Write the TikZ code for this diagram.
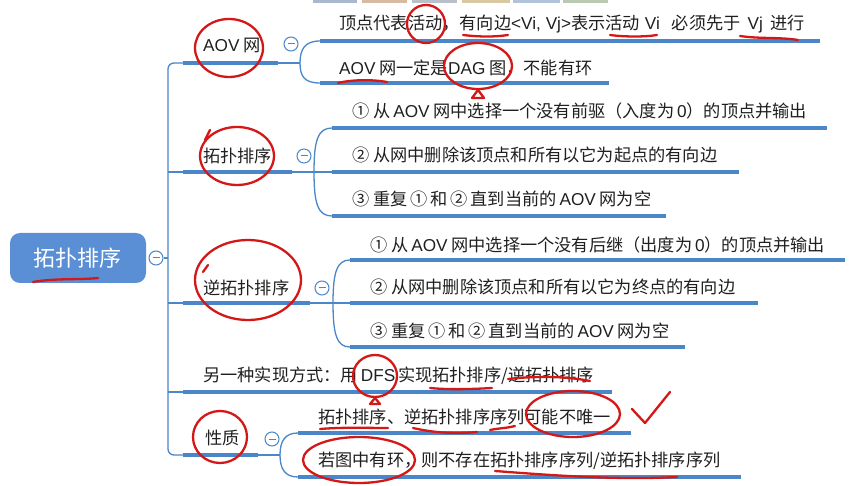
\documentclass[tikz,border=0pt]{standalone}
\usepackage{fontspec}
\setmainfont{Noto Sans CJK SC}
\newfontfamily\lat{Liberation Sans}
\definecolor{mapblue}{HTML}{4A86C8}
\definecolor{rootblue}{HTML}{5A8FD6}
\definecolor{ink}{HTML}{D41818}
\definecolor{tbA}{HTML}{A9B8CC}
\definecolor{tbB}{HTML}{D8B9A2}
\definecolor{tbC}{HTML}{B9C0C9}
\definecolor{tbD}{HTML}{D9C9A2}
\definecolor{tbE}{HTML}{B2C2D9}
\definecolor{tbF}{HTML}{BAC9B2}
\begin{document}
\begin{tikzpicture}[x=1pt,y=-1pt,
  bar/.style={mapblue, line width=3.6pt},
  link/.style={mapblue, line width=1.3pt, rounded corners=6pt},
  txt/.style={anchor=west, inner sep=0pt, font=\fontsize{17.2}{20}\selectfont, text=black!88},
  rootbox/.style={fill=rootblue, rounded corners=10pt, minimum width=136pt, minimum height=50pt,
                  text=white, font=\fontsize{22}{26}\selectfont},
  fold/.style={circle, draw=mapblue, fill=white, line width=1pt, minimum size=14pt, inner sep=0pt,
               path picture={\draw[mapblue, line width=1pt]
                 ([xshift=-3.5pt]path picture bounding box.center) --
                 ([xshift=3.5pt]path picture bounding box.center);}},
  pen/.style={ink, line width=2.3pt, line cap=round, line join=round},
]
\useasboundingbox (0,0) rectangle (857,486);

% toolbar remnants at the top edge
\fill[tbA] (313,0) rectangle (357,3);
\fill[tbB] (362,0) rectangle (407,3);
\fill[tbC] (412,0) rectangle (457,3);
\fill[tbD] (462,0) rectangle (510,3);
\fill[tbE] (513,0) rectangle (560,3);
\fill[tbF] (563,0) rectangle (608,3);

% root
\node[rootbox] (root) at (78,258) {拓扑排序};
\node[fold] (rf) at (156,258) {};
\coordinate (tr) at (168,258);
\draw[link] (rf.east) -- (tr);

% first-level bars
\coordinate (b1s) at (183,63);  \coordinate (b1e) at (278,63);
\coordinate (b2s) at (183,172); \coordinate (b2e) at (292,172);
\coordinate (b3s) at (183,303); \coordinate (b3e) at (310,303);
\coordinate (b4s) at (183,392); \coordinate (b4e) at (612,392);
\coordinate (b5s) at (183,455); \coordinate (b5e) at (258,455);
\coordinate (tt) at (168,63);
\coordinate (tb) at (168,455);
\draw[link] (b1s) -- (tt) -- (tb) -- (b5s);
\draw[link] (tt |- b2s) -- (b2s);
\draw[link] (tt |- b3s) -- (b3s);
\draw[link] (tt |- b4s) -- (b4s);
\foreach \b in {1,...,5} { \draw[bar] (b\b s) -- (b\b e); }

% first-level labels and fold circles
\node[txt] (l1) at (203,45) {{\lat AOV} 网};
\node[txt] (l2) at (203,156) {拓扑排序};
\node[txt] (l3) at (203,288) {逆拓扑排序};
\node[txt] (l4) at (203,376) {另一种实现方式：用\,{\lat DFS}\,实现拓扑排序/逆拓扑排序};
\node[txt] (l5) at (205,438) {性质};
\node[fold] (f1) at (291,44) {};
\node[fold] (f2) at (304,156) {};
\node[fold] (f3) at (322,288) {};
\node[fold] (f5) at (272,439) {};

% ---- AOV children
\coordinate (j1) at (300,63);
\coordinate (c11s) at (320,41); \coordinate (c11e) at (820,41);
\coordinate (c12s) at (320,83); \coordinate (c12e) at (609,83);
\draw[link] (b1e) -- (j1);
\draw[link] (j1) .. controls (300,49) and (305,41) .. (c11s);
\draw[link] (j1) .. controls (300,77) and (305,83) .. (c12s);
\draw[bar] (c11s) -- (c11e);
\draw[bar] (c12s) -- (c12e);
\node[txt] (c11) at (339,24) {顶点代表活动，有向边{\lat <Vi, Vj>}表示活动\hspace{5pt}{\lat Vi}\hspace{12pt}必须先于\hspace{7pt}{\lat Vj}\hspace{7pt}进行};
\node[txt] (c12) at (339,68) {{\lat AOV} 网一定是{\lat DAG} 图，不能有环};

% ---- topological sort children
\coordinate (j2) at (314,172);
\coordinate (c21s) at (332,128); \coordinate (c21e) at (827,128);
\coordinate (c22s) at (332,172); \coordinate (c22e) at (739,172);
\coordinate (c23s) at (332,216); \coordinate (c23e) at (666,216);
\draw[link] (b2e) -- (j2) -- (c22s);
\draw[link] (j2) .. controls (314,140) and (318,128) .. (c21s);
\draw[link] (j2) .. controls (314,204) and (318,216) .. (c23s);
\draw[bar] (c21s) -- (c21e);
\draw[bar] (c22s) -- (c22e);
\draw[bar] (c23s) -- (c23e);
\node[txt] (c21) at (352,111) {① 从\,{\lat AOV} 网中选择一个没有前驱（入度为\,{\lat 0}）的顶点并输出};
\node[txt] (c22) at (352,155) {② 从网中删除该顶点和所有以它为起点的有向边};
\node[txt] (c23) at (352,199) {③ 重复\,①\,和\,②\,直到当前的\,{\lat AOV} 网为空};

% ---- reverse topological sort children
\coordinate (j3) at (333,303);
\coordinate (c31s) at (350,260); \coordinate (c31e) at (845,260);
\coordinate (c32s) at (350,303); \coordinate (c32e) at (758,303);
\coordinate (c33s) at (350,347); \coordinate (c33e) at (685,347);
\draw[link] (b3e) -- (j3) -- (c32s);
\draw[link] (j3) .. controls (333,272) and (337,260) .. (c31s);
\draw[link] (j3) .. controls (333,335) and (337,347) .. (c33s);
\draw[bar] (c31s) -- (c31e);
\draw[bar] (c32s) -- (c32e);
\draw[bar] (c33s) -- (c33e);
\node[txt] (c31) at (370,245) {① 从\,{\lat AOV} 网中选择一个没有后继（出度为\,{\lat 0}）的顶点并输出};
\node[txt] (c32) at (370,287) {② 从网中删除该顶点和所有以它为终点的有向边};
\node[txt] (c33) at (370,331) {③ 重复\,①\,和\,②\,直到当前的\,{\lat AOV} 网为空};

% ---- properties children
\coordinate (j5) at (280,455);
\coordinate (c51s) at (298,433); \coordinate (c51e) at (631,433);
\coordinate (c52s) at (298,477); \coordinate (c52e) at (741,477);
\draw[link] (b5e) -- (j5);
\draw[link] (j5) .. controls (280,441) and (285,433) .. (c51s);
\draw[link] (j5) .. controls (280,469) and (285,477) .. (c52s);
\draw[bar] (c51s) -- (c51e);
\draw[bar] (c52s) -- (c52e);
\node[txt] (c51) at (318,417) {拓扑排序、逆拓扑排序序列可能不唯一};
\node[txt] (c52) at (318,461) {若图中有环，则不存在拓扑排序序列/逆拓扑排序序列};

% ---- red handwritten marks
\draw[pen] (229,48) ellipse [x radius=34, y radius=29];
\draw[pen] (426,24) ellipse [x radius=19, y radius=19];
\draw[pen] (463,35) .. controls (480,37) and (495,37) .. (508,35);
\draw[pen] (610,35) .. controls (625,37) and (645,37) .. (657,35);
\draw[pen] (740,36) .. controls (760,39) and (780,37) .. (798,40);
\draw[pen] (338,83) .. controls (350,80) and (370,79) .. (387,82);
\draw[pen] (478,66) ellipse [x radius=34, y radius=23];
\draw[pen] (472,98) -- (478,90) -- (484,98) -- cycle;
\draw[pen] (237,156) ellipse [x radius=37, y radius=29];
\draw[pen] (205,140) -- (210,130);
\draw[pen] (33,282) .. controls (55,278) and (80,280) .. (98,278);
\draw[pen] (248,280) ellipse [x radius=53, y radius=40];
\draw[pen] (203,272) -- (208,265);
\draw[pen] (375,376) ellipse [x radius=22, y radius=21];
\draw[pen] (370,404) -- (375,398) -- (380,404) -- cycle;
\draw[pen] (430,388) .. controls (450,390) and (475,389) .. (492,388);
\draw[pen] (508,379) .. controls (535,376) and (565,376) .. (590,381);
\draw[pen] (220,437) ellipse [x radius=27, y radius=26];
\draw[pen] (320,429) .. controls (345,427) and (365,428) .. (388,428);
\draw[pen] (413,428) .. controls (435,433) and (455,434) .. (477,432);
\draw[pen] (490,430) .. controls (500,428) and (508,428) .. (515,426);
\draw[pen] (573,414) ellipse [x radius=47, y radius=23];
\draw[pen] (632,409) -- (645,423) -- (670,392);
\draw[pen] (359,460) ellipse [x radius=56, y radius=23];
\draw[pen] (495,471) .. controls (560,476) and (620,480) .. (677,477);
\end{tikzpicture}
\end{document}
